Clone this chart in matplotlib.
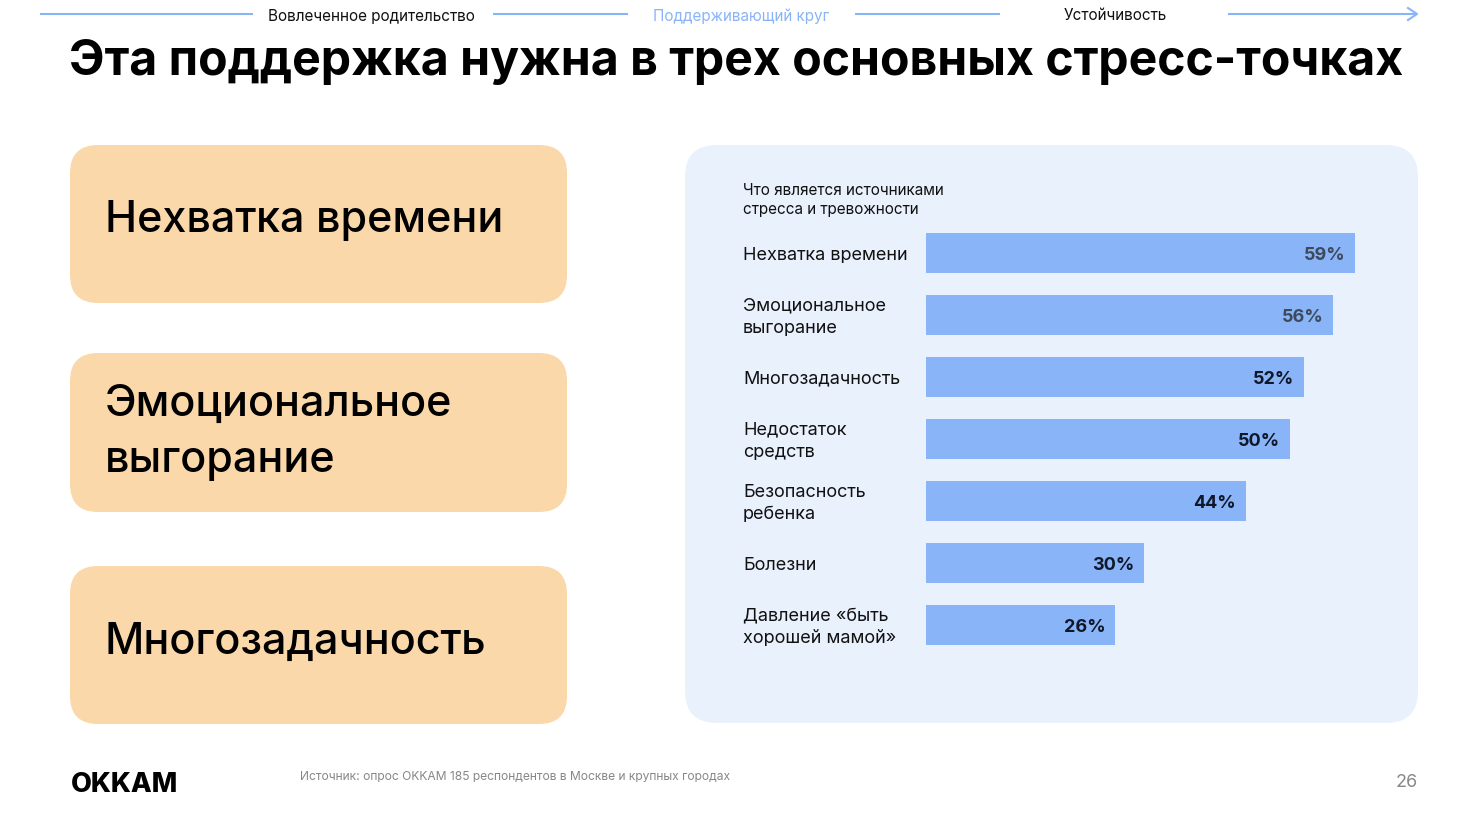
import numpy as np
import matplotlib.pyplot as plt
from matplotlib.patches import FancyBboxPatch
from matplotlib.transforms import blended_transform_factory

plt.rcParams['font.family'] = ['Inter', 'DejaVu Sans']

# Данные графика
categories = ['Нехватка времени', 'Эмоциональное\nвыгорание', 'Многозадачность',
              'Недостаток\nсредств', 'Безопасность\nребенка', 'Болезни',
              'Давление «быть\nхорошей мамой»']
values = [59, 56, 52, 50, 44, 30, 26]
label_colors = ['#3d4a5c', '#3d4a5c', '#0f172a', '#0f172a', '#0f172a', '#0f172a', '#0f172a']

cards = ['Нехватка времени', 'Эмоциональное\nвыгорание', 'Многозадачность']
nav = ['Вовлеченное родительство', 'Поддерживающий круг', 'Устойчивость']

W, H = 1473, 828
fig = plt.figure(figsize=(W / 100, H / 100), dpi=100)
fig.patch.set_facecolor('white')

# фоновая ось в пикселях
bg = fig.add_axes([0, 0, 1, 1])
bg.set_xlim(0, W)
bg.set_ylim(H, 0)
bg.axis('off')

line_c = '#8ab4f8'
# верхняя навигация
for x0, x1 in [(40, 253), (493, 628), (855, 1000), (1228, 1417)]:
    bg.plot([x0, x1], [15, 15], color=line_c, lw=1.5, solid_capstyle='butt')
bg.plot([1408, 1417, 1408], [9, 15, 21], color=line_c, lw=1.5)
bg.text(371, 16, nav[0], ha='center', va='center', fontsize=11, color='#111111')
bg.text(741, 16, nav[1], ha='center', va='center', fontsize=11, color='#8ab4f8')
bg.text(1115, 16, nav[2], ha='center', va='center', fontsize=11, color='#111111')

# заголовок
bg.text(736, 62, 'Эта поддержка нужна в трех основных стресс-точках',
        ha='center', va='center', fontsize=34.7, fontweight='bold', color='#000000')

# карточки слева
for (y0, y1), txt in zip([(146, 304), (354, 513), (567, 725)], cards):
    bg.add_patch(FancyBboxPatch((70, y0), 497, y1 - y0,
                                boxstyle='round,pad=0,rounding_size=28',
                                fc='#fbd8aa', ec='none'))
    bg.text(105, (y0 + y1) / 2 - 4 + (3 if '\n' in txt else 0), txt, ha='left', va='center',
            fontsize=31, fontweight='medium', color='#000000', linespacing=1.45)

# панель справа
bg.add_patch(FancyBboxPatch((685, 146), 733, 578,
                            boxstyle='round,pad=0,rounding_size=32',
                            fc='#e9f1fd', ec='none'))
bg.text(743, 200, 'Что является источниками\nстресса и тревожности',
        ha='left', va='center', fontsize=11, color='#111111', linespacing=1.3)

# столбцы
ax = fig.add_axes([926 / W, 1 - 646 / H, (1355 - 926) / W, 412 / H])
ax.set_facecolor('none')
y = np.arange(len(values))
ax.barh(y, values, height=40 / 62, color='#8ab4f8', left=0)
ax.set_xlim(0, 59)
ax.set_ylim(6 + 20 / 62, -20 / 62)
ax.axis('off')

tr = blended_transform_factory(bg.transData, ax.transData)
for i, (c, v, lc) in enumerate(zip(categories, values, label_colors)):
    ax.text(743, i + 0.02, c, transform=tr, ha='left', va='center', fontsize=13,
            color='#111111', linespacing=1.4)
    ax.text(v - 1.35, i + 0.03, f'{v}%', ha='right', va='center', fontsize=13,
            fontweight='bold', color=lc)

# подвал
bg.text(71, 785, 'OKKAM', ha='left', va='center', fontsize=19.5, fontweight='heavy',
        color='#000000')
bg.text(300, 777, 'Источник: опрос OKKAM 185 респондентов в Москве и крупных городах',
        ha='left', va='center', fontsize=8.7, color='#888888')
bg.text(1418, 783, '26', ha='right', va='center', fontsize=13, color='#888888')

fig.savefig('out.png', dpi=100, facecolor='white')
